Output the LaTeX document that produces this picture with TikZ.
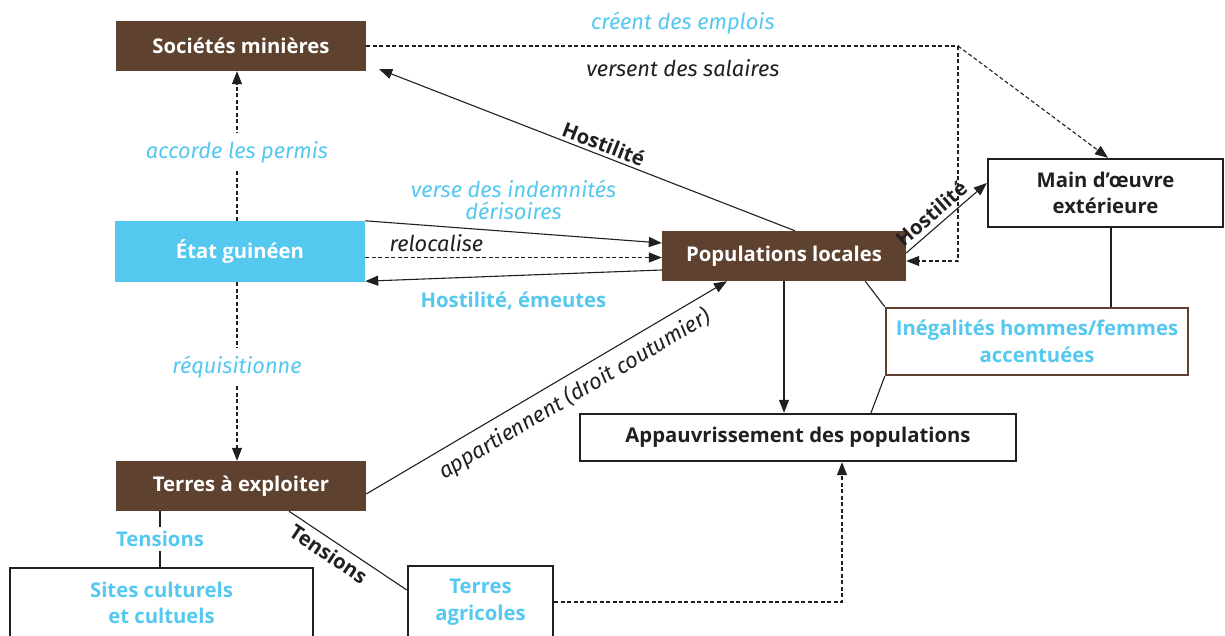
\documentclass[tikz,border=0pt]{standalone}
\usepackage{fontspec}
\setmainfont{Open Sans}[ItalicFont={Fira Sans Italic}]
\usetikzlibrary{arrows.meta,calc}
\definecolor{brn}{HTML}{5E412E}
\definecolor{sky}{HTML}{55C8F0}
\definecolor{ink}{HTML}{231F20}
\begin{document}
\begin{tikzpicture}[x=1pt,y=-1pt,
  bfnt/.style={font=\fontsize{20.3}{26.5}\selectfont\bfseries},
  brownbox/.style={bfnt, fill=brn, text=white, inner sep=0pt, align=center},
  bluebox/.style={bfnt, fill=sky, text=white, inner sep=0pt, align=center},
  wbox/.style={bfnt, draw=ink, line width=2.4pt, fill=white, text=ink, inner sep=0pt, align=center},
  ibox/.style={bfnt, draw=brn, line width=2.4pt, fill=white, text=sky, inner sep=0pt, align=center},
  conn/.style={draw=ink, line width=1.1pt},
  dsh/.style={conn, dash pattern=on 4pt off 2.5pt},
  arr/.style={-{Triangle[length=13pt,width=10pt]}},
  lbl/.style={inner sep=3pt, align=center, font=\fontsize{21.8}{22}\selectfont\itshape},
  blbl/.style={bfnt, inner sep=3pt, align=center},
]
\useasboundingbox (0,0) rectangle (1225,635);
\clip (0,0) rectangle (1225,635);
\fill[white] (0,0) rectangle (1225,635);

% nodes
\node[brownbox, minimum width=250, minimum height=50] (soc) at (241,46) {Sociétés minières};
\node[bluebox, minimum width=250, minimum height=61] (eta) at (240,251.5) {État guinéen};
\node[brownbox, minimum width=244, minimum height=50] (pop) at (784,256) {Populations locales};
\node[wbox, minimum width=235, minimum height=68] (main) at (1105.5,193) {Main d’œuvre\\extérieure};
\node[ibox, minimum width=302, minimum height=67] (ineg) at (1037,341.5) {Inégalités hommes/femmes\\accentuées};
\node[wbox, minimum width=436, minimum height=47] (app) at (798,437.5) {Appauvrissement des populations};
\node[brownbox, minimum width=250, minimum height=50] (ter) at (241,486) {Terres à exploiter};
\node[wbox, minimum width=303, minimum height=70, text=sky] (sit) at (161.5,603) {Sites culturels\\et cultuels};
\node[wbox, minimum width=145, minimum height=72, text=sky] (agr) at (480.5,602) {Terres\\agricoles};
\coordinate (c1) at (958,46);

% Sociétés -> main d'oeuvre / populations
\draw[dsh] (soc.east) -- node[lbl, pos=0.535, yshift=23, text=sky]{créent des emplois}
  node[lbl, pos=0.535, yshift=-22, text=ink]{versent des salaires} (c1);
\draw[dsh, arr] (c1) -- ([xshift=2.5]main.north);
\draw[dsh, arr] (c1) |- ([yshift=-5]pop.east);

% Hostilité populations -> sociétés
\draw[conn, arr] ([xshift=11]pop.north) -- node[blbl, pos=0.47, sloped, above=0pt, text=ink]{Hostilité} ([xshift=13,yshift=2]soc.south east);

% État <-> sociétés / terres
\draw[dsh, arr] ([xshift=-3]eta.north) -- node[lbl, pos=0.46, fill=white, text=sky, inner ysep=8pt]{accorde les permis} ([xshift=-3]eta.north |- soc.south);
\draw[dsh, arr] ([xshift=-3]eta.south) -- node[lbl, pos=0.475, fill=white, text=sky, inner ysep=8pt]{réquisitionne} ([xshift=-3]eta.south |- ter.north);

% État <-> populations
\draw[conn, arr] (eta.north east) -- node[lbl, midway, yshift=32, text=sky]{verse des indemnités\\dérisoires} ([yshift=13]pop.west);
\draw[dsh, arr] ([yshift=-6]eta.east) -- node[lbl, pos=0.24, yshift=14, text=ink]{relocalise} ([yshift=-6]eta.east -| pop.west);
\draw[conn, arr] ([yshift=-14]pop.west) -- node[blbl, midway, yshift=-25, text=sky]{Hostilité, émeutes} ([yshift=1]eta.south east);

% Populations -> main d'oeuvre
\draw[conn, arr] ([yshift=3]pop.east) -- node[blbl, pos=0.42, sloped, above=2pt, text=ink]{Hostilité} ([yshift=10]main.west);

% Inégalités links
\draw[conn] ([xshift=5.5]main.south) -- ([xshift=5.5]main.south |- ineg.north);
\draw[conn] ([xshift=-41]pop.south east) -- (ineg.north west);
\draw[conn] (ineg.south west) -- ([xshift=73]app.north);

% Populations -> appauvrissement
\draw[conn, arr] (pop.south) -- (pop.south |- app.north);

% Terres -> populations
\draw[conn, arr] ([yshift=-8]ter.east) -- node[lbl, pos=0.55, sloped, below=5pt, text=ink]{appartiennent (droit coutumier)} ([xshift=-57]pop.south);

% Terres -> sites / agricoles
\draw[conn] ([xshift=-81]ter.south) -- node[blbl, fill=white, text=sky, inner ysep=4pt]{Tensions} ([xshift=-81]ter.south |- sit.north);
\draw[conn] ([xshift=48]ter.south) -- node[blbl, pos=0.4, sloped, below=2pt, text=ink]{Tensions} ([yshift=12]agr.west);

% Agricoles -> appauvrissement
\draw[dsh, arr] (agr.east) -| ([xshift=44]app.south);
\end{tikzpicture}
\end{document}
